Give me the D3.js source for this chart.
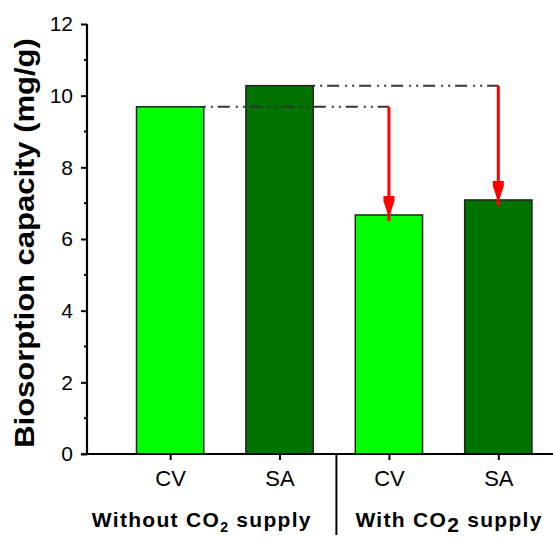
<!DOCTYPE html>
<html>
<head>
<meta charset="utf-8">
<script src="https://cdn.jsdelivr.net/npm/d3@7"></script>
<style>
  body { margin: 0; background: #fff; }
  text { font-family: "Liberation Sans", Arial, sans-serif; }
</style>
</head>
<body>
<div id="chart"></div>
<script>
// data
var categories = ["CV", "SA", "CV", "SA"]
var positions = [1, 2, 3, 4]
var capacity = [9.69, 10.28, 6.67, 7.09]
var barColors = ["#00ff00", "#007200", "#00ff00", "#007200"]
var groups = ["Without", "With"]
var yTicks = [0, 2, 4, 6, 8, 10, 12]
var yMinor = [1, 3, 5, 7, 9, 11]
// which "without" bar each "with" bar is compared to
var drops = [{from: 0, to: 2}, {from: 1, to: 3}]

var width = 553, height = 540
var margin = {top: 24, left: 87, bottom: 86}

var svg = d3.select("#chart")
    .append("svg")
    .attr("width", width)
    .attr("height", height)

var x = d3.scaleLinear().domain([0.24, 4.5]).range([margin.left, 553])
var y = d3.scaleLinear().domain([0, 12]).range([height - margin.bottom, margin.top])
var step = x(2) - x(1)
var barW = step * 0.615

// bars
svg.selectAll("rect.bar")
    .data(capacity)
    .enter()
    .append("rect")
    .attr("class", "bar")
    .attr("x", (d, i) => x(positions[i]) - barW / 2)
    .attr("y", d => y(d))
    .attr("width", barW)
    .attr("height", d => y(0) - y(d))
    .attr("fill", (d, i) => barColors[i])
    .attr("stroke", "#222")
    .attr("stroke-width", 1.5)

// dash-dot-dot guide lines from the "without" bars
svg.selectAll("line.guide")
    .data(drops)
    .enter()
    .append("line")
    .attr("class", "guide")
    .attr("x1", d => x(positions[d.from]) + barW / 2)
    .attr("x2", d => x(positions[d.to]))
    .attr("y1", d => y(capacity[d.from]))
    .attr("y2", d => y(capacity[d.from]))
    .attr("stroke", "#333")
    .attr("stroke-width", 2)
    .attr("stroke-dasharray", "2 5 2 5 12 6")

// red arrows
drops.forEach(d => {
    var cx = x(positions[d.to])
    var top = y(capacity[d.from])
    var tip = y(capacity[d.to]) - 2
    svg.append("line")
        .attr("x1", cx).attr("x2", cx)
        .attr("y1", top).attr("y2", tip + 8)
        .attr("stroke", "#ff0000")
        .attr("stroke-width", 3)
    svg.append("path")
        .attr("d", "M" + (cx - 5.5) + "," + (tip - 17) +
            " L" + (cx + 5.5) + "," + (tip - 17) +
            " L" + (cx + 5.5) + "," + (tip - 12) +
            " L" + (cx + 1.5) + "," + tip +
            " L" + (cx - 1.5) + "," + tip +
            " L" + (cx - 5.5) + "," + (tip - 12) + " Z")
        .attr("fill", "#ff0000")
})

// y axis
var yAxis = svg.append("g")
    .attr("transform", "translate(" + margin.left + ",0)")
    .call(d3.axisLeft(y).tickValues(yTicks).tickSize(6).tickPadding(8))
yAxis.select(".domain").attr("stroke", "#000").attr("stroke-width", 2.2)
    .attr("d", "M0," + y(12) + "V" + y(0))
yAxis.selectAll(".tick line").attr("stroke", "#000").attr("stroke-width", 2)
yAxis.selectAll(".tick text")
    .attr("font-size", "21px")
    .attr("fill", "#000")
    .style("font-family", "'Liberation Sans', Arial, sans-serif")

svg.append("g")
    .attr("transform", "translate(" + margin.left + ",0)")
    .selectAll("line")
    .data(yMinor)
    .enter()
    .append("line")
    .attr("x1", -3).attr("x2", 0)
    .attr("y1", d => y(d)).attr("y2", d => y(d))
    .attr("stroke", "#000")
    .attr("stroke-width", 2)

// x axis
var xAxis = svg.append("g")
    .attr("transform", "translate(0," + y(0) + ")")
    .call(d3.axisBottom(x).tickValues(positions).tickSize(6).tickPadding(10)
        .tickFormat((d, i) => categories[i]))
xAxis.select(".domain").attr("stroke", "#000").attr("stroke-width", 2.2)
    .attr("d", "M" + (margin.left - 6) + ",0H" + width)
xAxis.selectAll(".tick line").attr("stroke", "#000").attr("stroke-width", 2)
xAxis.selectAll(".tick text")
    .attr("font-size", "22px")
    .attr("fill", "#000")
    .style("font-family", "'Liberation Sans', Arial, sans-serif")

// group separator
svg.append("line")
    .attr("x1", x(2.52)).attr("x2", x(2.52))
    .attr("y1", y(0)).attr("y2", 535)
    .attr("stroke", "#000")
    .attr("stroke-width", 2)

// group labels
var g1 = svg.append("text")
    .attr("x", x(1.29)).attr("y", 527)
    .attr("text-anchor", "middle")
    .attr("font-size", "21px")
    .attr("font-weight", "bold")
    .attr("letter-spacing", "1.3px")
g1.append("tspan").text(groups[0] + " CO")
g1.append("tspan").text("2").attr("font-size", "14px").attr("dy", 5)
g1.append("tspan").text(" supply").attr("dy", -5)

var g2 = svg.append("text")
    .attr("x", x(3.55)).attr("y", 527)
    .attr("text-anchor", "middle")
    .attr("font-size", "21px")
    .attr("font-weight", "bold")
    .attr("letter-spacing", "1.3px")
g2.append("tspan").text(groups[1] + " CO")
g2.append("tspan").text("2").attr("dy", 5)
g2.append("tspan").text(" supply").attr("dy", -5)

// y label
svg.append("text")
    .attr("transform", "translate(34," + ((y(0) + y(12)) / 2 + 4) + ") scale(0.92,1) rotate(-90)")
    .attr("text-anchor", "middle")
    .attr("font-size", "31px")
    .attr("font-weight", "bold")
    .text("Biosorption capacity (mg/g)")
</script>
</body>
</html>
